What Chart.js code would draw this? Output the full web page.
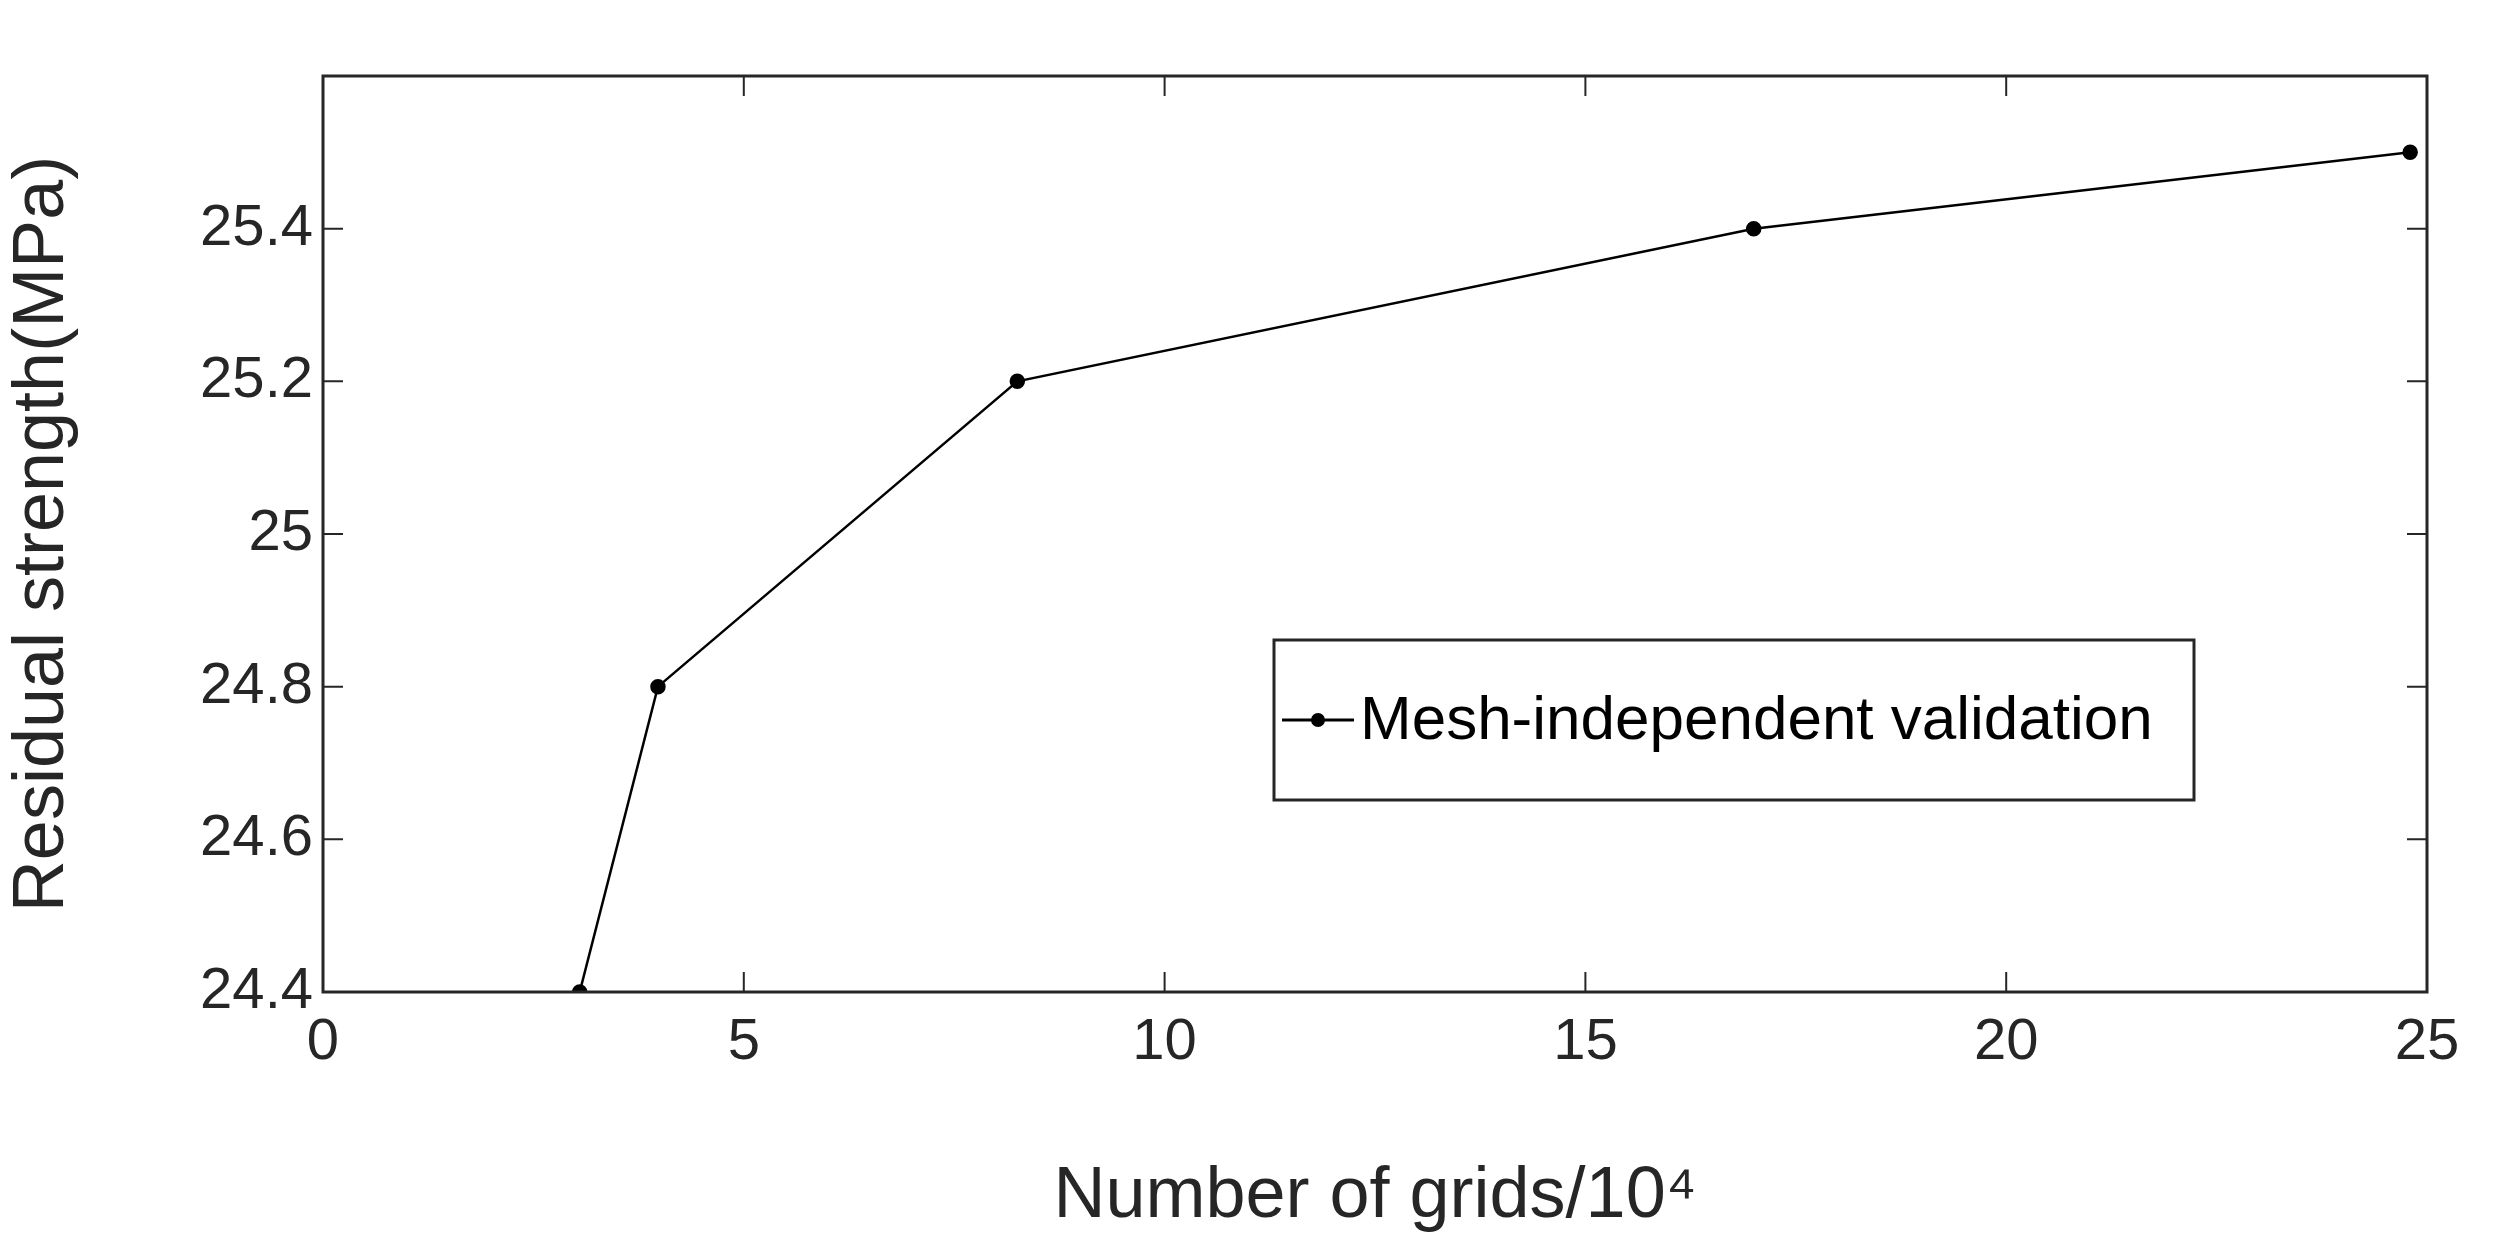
<!DOCTYPE html>
<html><head><meta charset="utf-8">
<script src="https://cdn.jsdelivr.net/npm/chart.js@4"></script>
<style>html,body{margin:0;padding:0;background:#fff}#c{display:block}</style>
</head><body>
<canvas id="c" width="2517" height="1244"></canvas>
<script>
const gridCounts = [3.05, 3.98, 8.25, 17.0, 24.8];
const strengths = [24.4, 24.8, 25.2, 25.4, 25.5];
const seriesLabel = 'Mesh-independent validation';
const xTicks = [0, 5, 10, 15, 20, 25];
const yTicks = [24.4, 24.6, 24.8, 25, 25.2, 25.4];

const FONT = "'Liberation Sans', Arial, sans-serif";

// MATLAB style box, inward ticks and the legend box
const frame = {
  id: 'frame',
  afterDatasetsDraw(chart) {
    const {ctx, chartArea: a, scales: {x, y}} = chart;
    ctx.save();
    ctx.strokeStyle = '#262626';
    ctx.lineWidth = 3;
    ctx.strokeRect(a.left, a.top, a.right - a.left, a.bottom - a.top);
    ctx.lineWidth = 2;
    xTicks.forEach(v => {
      const px = x.getPixelForValue(v);
      ctx.beginPath();
      ctx.moveTo(px, a.bottom); ctx.lineTo(px, a.bottom - 20);
      ctx.moveTo(px, a.top); ctx.lineTo(px, a.top + 20);
      ctx.stroke();
    });
    yTicks.forEach(v => {
      const py = y.getPixelForValue(v);
      ctx.beginPath();
      ctx.moveTo(a.left, py); ctx.lineTo(a.left + 20, py);
      ctx.moveTo(a.right, py); ctx.lineTo(a.right - 20, py);
      ctx.stroke();
    });
    // legend
    const lx = 1274, ly = 640, lw = 920, lh = 160;
    ctx.fillStyle = '#fff';
    ctx.fillRect(lx, ly, lw, lh);
    ctx.lineWidth = 3;
    ctx.strokeStyle = '#262626';
    ctx.strokeRect(lx, ly, lw, lh);
    const my = ly + lh / 2;
    ctx.strokeStyle = '#000';
    ctx.beginPath(); ctx.moveTo(lx + 8, my); ctx.lineTo(lx + 80, my); ctx.stroke();
    ctx.fillStyle = '#000';
    ctx.beginPath(); ctx.arc(lx + 44, my, 7, 0, Math.PI * 2); ctx.fill();
    ctx.font = '62px ' + FONT;
    ctx.textBaseline = 'middle';
    ctx.fillText(seriesLabel, lx + 86, my + 2);
    ctx.restore();
  }
};

new Chart(document.getElementById('c'), {
  type: 'line',
  data: {
    datasets: [{
      label: seriesLabel,
      data: gridCounts.map((g, i) => ({x: g, y: strengths[i]})),
      borderColor: '#000',
      backgroundColor: '#000',
      borderWidth: 2.5,
      pointRadius: 6.5,
      pointStyle: 'circle',
      tension: 0
    }]
  },
  options: {
    responsive: false,
    animation: false,
    layout: {padding: {top: 76, right: 90, left: 0, bottom: 0}},
    plugins: {legend: {display: false}, tooltip: {enabled: false}},
    scales: {
      x: {
        type: 'linear', min: 0, max: 25,
        afterBuildTicks: s => { s.ticks = xTicks.map(v => ({value: v})); },
        afterFit: s => { s.height = 252; },
        grid: {display: false, drawTicks: false},
        border: {display: false},
        ticks: {color: '#262626', font: {family: FONT, size: 58}, padding: 16},
        title: {display: true, text: 'Number of grids/10\u2074', color: '#262626',
                font: {family: FONT, size: 72}, padding: {top: 44}}
      },
      y: {
        type: 'linear', min: 24.4, max: 25.6,
        afterBuildTicks: s => { s.ticks = yTicks.map(v => ({value: v})); },
        afterFit: s => { s.width = 323; },
        grid: {display: false, drawTicks: false},
        border: {display: false},
        ticks: {color: '#262626', font: {family: FONT, size: 58}, padding: 10,
                callback: v => String(Math.round(v * 10) / 10)},
        title: {display: true, text: 'Residual strength(MPa)', color: '#262626',
                font: {family: FONT, size: 72}, padding: {top: 0, bottom: 0}}
      }
    }
  },
  plugins: [frame]
});
</script>
</body></html>
